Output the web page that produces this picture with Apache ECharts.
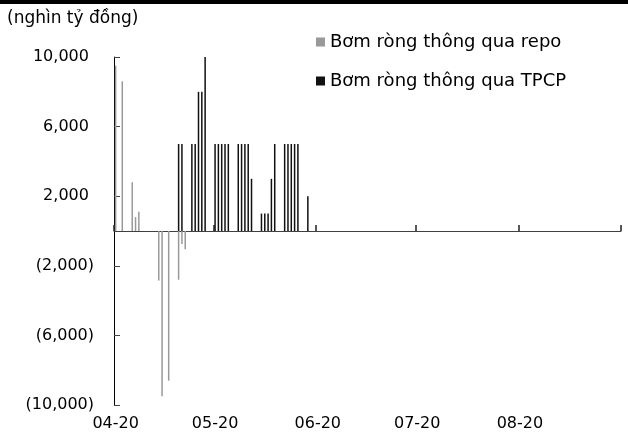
<!DOCTYPE html>
<html>
<head>
<meta charset="utf-8">
<script src="https://cdn.jsdelivr.net/npm/echarts@6/dist/echarts.min.js"></script>
<style>
  html, body { margin: 0; padding: 0; background: #fff; }
  #chart { width: 628px; height: 446px; }
</style>
</head>
<body>
<div id="chart"></div>
<script>
// các ngày trên trục hoành (04-20 .. 09-19)
var monthDays = [['04', 20, 30], ['05', 1, 31], ['06', 1, 30], ['07', 1, 31], ['08', 1, 31], ['09', 1, 19]];
var days = [];
monthDays.forEach(function (m) {
  for (var d = m[1]; d <= m[2]; d++) {
    days.push(m[0] + '-' + (d < 10 ? '0' + d : d));
  }
});

// Bơm ròng thông qua repo
var repoDays = ['04-20', '04-22', '04-25', '04-26', '04-27', '05-03', '05-04', '05-06', '05-09', '05-10', '05-11'];
var repoValues = [9500, 8600, 2800, 800, 1100, -2850, -9500, -8600, -2800, -750, -1050];

// Bơm ròng thông qua TPCP
var tpcpDays = ['05-09', '05-10', '05-13', '05-14', '05-15', '05-16', '05-17',
  '05-20', '05-21', '05-22', '05-23', '05-24',
  '05-27', '05-28', '05-29', '05-30', '05-31',
  '06-03', '06-04', '06-05', '06-06', '06-07',
  '06-10', '06-11', '06-12', '06-13', '06-14', '06-17'];
var tpcpValues = [5000, 5000, 5000, 5000, 8000, 8000, 10000,
  5000, 5000, 5000, 5000, 5000,
  5000, 5000, 5000, 5000, 3000,
  1000, 1000, 1000, 3000, 5000,
  5000, 5000, 5000, 5000, 5000, 2000];

var FONT = 'DejaVu Sans';

function pairs(keys, vals) {
  return keys.map(function (k, i) { return [k, vals[i]]; });
}

// số âm hiển thị trong ngoặc, số dương chừa chỗ cho dấu ")"
function fmtY(v) {
  var s = Math.abs(v).toLocaleString('en-US');
  return v < 0 ? '(' + s + ')' : s + '\u2008';
}

function isTick(index, value) {
  return String(value).slice(3) === '20';
}

var chart = echarts.init(document.getElementById('chart'));
chart.setOption({
  animation: false,
  color: ['#999999', '#111111'],
  grid: { left: 114, right: 7, top: 57, bottom: 41, containLabel: false, outerBoundsMode: 'none' },
  graphic: [
    { type: 'rect', left: 0, top: 0, shape: { width: 628, height: 4 }, style: { fill: '#000' } },
    { type: 'text', left: 7, top: 10, style: { text: '(nghìn tỷ đồng)', font: '17px ' + FONT, fill: '#000' } }
  ],
  legend: {
    orient: 'vertical',
    left: 311,
    top: 28,
    itemWidth: 9,
    itemHeight: 9,
    itemGap: 21,
    icon: 'rect',
    textStyle: { fontFamily: FONT, fontSize: 18, color: '#000' },
    data: ['Bơm ròng thông qua repo', 'Bơm ròng thông qua TPCP']
  },
  xAxis: {
    type: 'category',
    data: days,
    position: 'bottom',
    axisLine: { onZero: true, lineStyle: { color: '#404040', width: 1 } },
    axisTick: { show: true, inside: true, length: 6, interval: isTick, lineStyle: { color: '#222', width: 1.5 } },
    axisLabel: {
      interval: isTick,
      margin: 11,
      fontFamily: FONT,
      fontSize: 16,
      color: '#000'
    }
  },
  yAxis: {
    type: 'value',
    min: -10000,
    max: 10000,
    interval: 4000,
    splitLine: { show: false },
    axisLine: { show: true, lineStyle: { color: '#000', width: 1 } },
    axisTick: { show: true, inside: true, length: 6, lineStyle: { color: '#444' } },
    axisLabel: {
      margin: 20,
      fontFamily: FONT,
      fontSize: 16,
      color: '#000',
      formatter: fmtY
    }
  },
  series: [{
    name: 'Bơm ròng thông qua repo',
    type: 'bar',
    barWidth: 1.5,
    barGap: '-100%',
    data: pairs(repoDays, repoValues)
  }, {
    name: 'Bơm ròng thông qua TPCP',
    type: 'bar',
    barWidth: 1.5,
    barGap: '-100%',
    data: pairs(tpcpDays, tpcpValues)
  }]
});
</script>
</body>
</html>
